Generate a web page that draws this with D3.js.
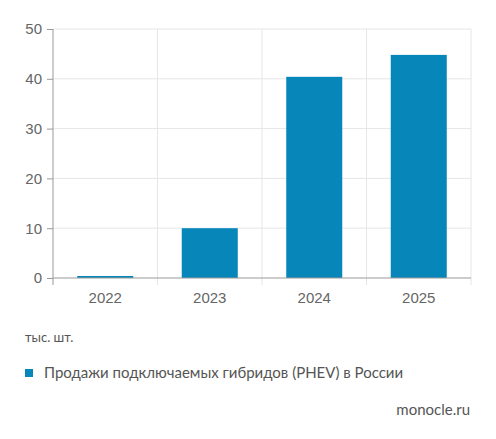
<!DOCTYPE html>
<html>
<head>
<meta charset="utf-8">
<script src="https://cdn.jsdelivr.net/npm/d3@7"></script>
<style>
  body { margin: 0; background: #fff; }
  svg { display: block; font-family: Lato, "Open Sans", sans-serif; }
</style>
</head>
<body>
<svg id="chart" width="496" height="439"></svg>
<script>
const years = ['2022', '2023', '2024', '2025'];
const sales = [0.4, 10.0, 40.4, 44.8];
const yTicks = [0, 10, 20, 30, 40, 50];
const seriesName = 'Продажи подключаемых гибридов (PHEV) в России';
const unitLabel = 'тыс. шт.';
const source = 'monocle.ru';

const width = 496;
const margin = { top: 29, right: 25, bottom: 161, left: 53 };
const height = 439;
const color = '#0786b9';

const svg = d3.select('#chart');

const x = d3.scaleBand()
  .domain(years)
  .range([margin.left, width - margin.right])
  .padding(0);

const y = d3.scaleLinear()
  .domain([0, 50])
  .range([height - margin.bottom, margin.top]);

// horizontal gridlines
svg.append('g')
  .selectAll('line')
  .data(yTicks.slice(1))
  .join('line')
    .attr('x1', margin.left)
    .attr('x2', width - margin.right)
    .attr('y1', d => y(d))
    .attr('y2', d => y(d))
    .attr('stroke', '#e6e6e6');

// vertical gridlines at band edges
const edges = years.slice(1).map(d => x(d)).concat([width - margin.right]);
svg.append('g')
  .selectAll('line')
  .data(edges)
  .join('line')
    .attr('x1', d => d)
    .attr('x2', d => d)
    .attr('y1', margin.top)
    .attr('y2', y(0) + 7)
    .attr('stroke', '#e6e6e6');

// bars
const barW = x.bandwidth() * 0.536;
svg.append('g')
  .attr('fill', color)
  .selectAll('rect')
  .data(years.map((d, i) => ({ year: d, value: sales[i] })))
  .join('rect')
    .attr('x', d => x(d.year) + (x.bandwidth() - barW) / 2)
    .attr('y', d => y(d.value))
    .attr('width', barW)
    .attr('height', d => y(0) - y(d.value));

// y axis
const yAxis = svg.append('g')
  .attr('transform', `translate(${margin.left},0)`)
  .call(d3.axisLeft(y).tickValues(yTicks).tickSize(6).tickPadding(5));
yAxis.select('.domain').attr('stroke', '#999').attr('d', `M0,${margin.top}V${y(0) + 7}`);
yAxis.selectAll('.tick line').attr('stroke', '#999');
yAxis.selectAll('text')
  .attr('fill', '#666')
  .style('font-size', '15px');

// x axis
const xAxis = svg.append('g')
  .attr('transform', `translate(0,${y(0)})`)
  .call(d3.axisBottom(x).tickSize(0).tickPadding(14));
xAxis.select('.domain').attr('stroke', '#999').attr('d', `M${margin.left},0H${width - margin.right}`);
xAxis.selectAll('text')
  .attr('fill', '#666')
  .style('font-size', '15px');

// unit label
svg.append('text')
  .attr('x', 25)
  .attr('y', 337)
  .attr('dy', '0.35em')
  .attr('fill', '#555')
  .style('font-size', '13px')
  .text(unitLabel);

// legend
svg.append('rect')
  .attr('x', 25)
  .attr('y', 369)
  .attr('width', 8)
  .attr('height', 8)
  .attr('fill', color);
svg.append('text')
  .attr('x', 44)
  .attr('y', 373)
  .attr('dy', '0.35em')
  .attr('fill', '#555')
  .style('font-size', '15px')
  .text(seriesName);

// source
svg.append('text')
  .attr('x', 470)
  .attr('y', 410)
  .attr('dy', '0.35em')
  .attr('text-anchor', 'end')
  .attr('fill', '#555')
  .style('font-size', '15px')
  .text(source);
</script>
</body>
</html>
